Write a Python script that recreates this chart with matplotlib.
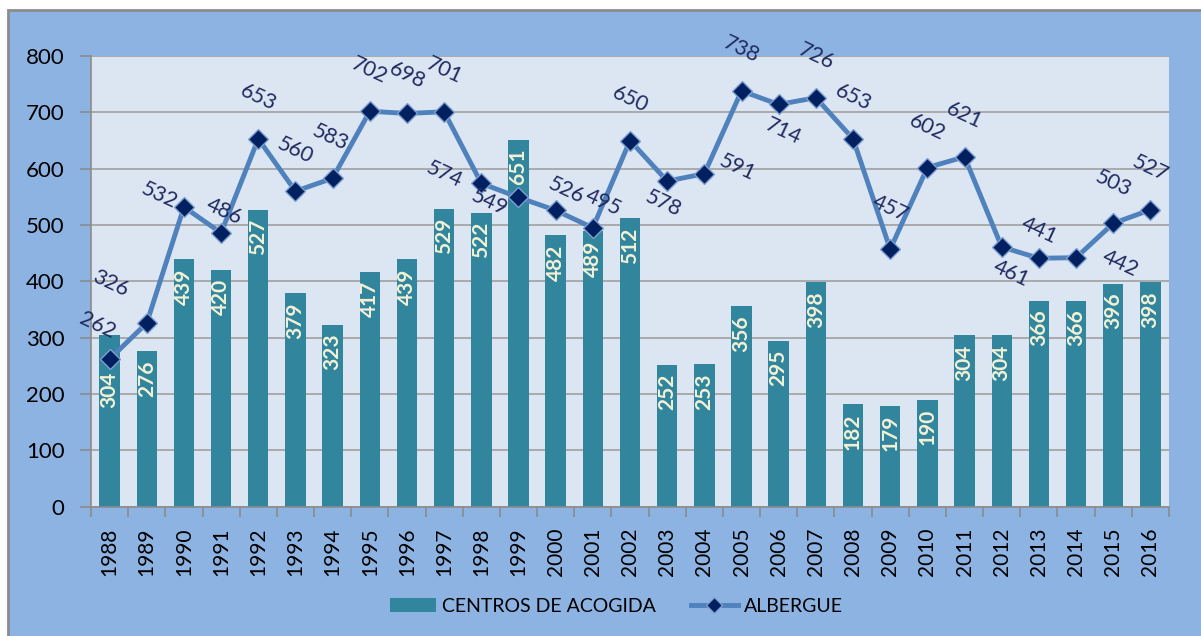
import numpy as np
import matplotlib
matplotlib.use('Agg')
import matplotlib.pyplot as plt
from matplotlib.patches import Rectangle
from matplotlib.ticker import MultipleLocator

plt.rcParams['font.family'] = ['Lato', 'DejaVu Sans']

years = [str(y) for y in range(1988, 2017)]
centros = [304, 276, 439, 420, 527, 379, 323, 417, 439, 529, 522, 651, 482, 489, 512,
           252, 253, 356, 295, 398, 182, 179, 190, 304, 304, 366, 366, 396, 398]
albergue = [262, 326, 532, 486, 653, 560, 583, 702, 698, 701, 574, 549, 526, 495, 650,
            578, 591, 738, 714, 726, 653, 457, 602, 621, 461, 441, 442, 503, 527]

# label offsets for the line values (pixels, x right / y up), as placed in the original
line_lbl_off = [(-12, 34), (-36, 40), (-25, 12), (3, 21), (0, 41), (0, 41), (-2, 41),
                (-1, 41), (0, 38), (0, 41), (-37, 9), (-29, -5), (11, 20), (10, 25),
                (0, 41), (-4, -22), (33, 6), (0, 41), (5, -27), (0, 41), (0, 41),
                (0, 41), (0, 40), (0, 41), (9, -26), (0, 28), (44, -6), (0, 40), (0, 41)]

W, H, DPI = 1201, 636, 100
fig = plt.figure(figsize=(W / DPI, H / DPI), dpi=DPI, facecolor='white')
bg = Rectangle((8 / W, -0.01), 1.0, 1 - 10 / H + 0.01, transform=fig.transFigure,
               facecolor='#8DB3E2', edgecolor='#8C8C8C', linewidth=2, zorder=-10)
fig.add_artist(bg)

ax = fig.add_axes([91 / W, 1 - 506.7 / H, (1169 - 91) / W, (506.7 - 56) / H])
ax.set_facecolor('#DCE6F2')

x = np.arange(len(years))
px = 72 / DPI

bars = ax.bar(x, centros, width=0.55, color='#31859C', zorder=2, label='CENTROS DE ACOGIDA')
line, = ax.plot(x, albergue, color='#4F81BD', linewidth=3.5, marker='D', markersize=10,
                markerfacecolor='#002060', markeredgecolor='#7F9FD0', markeredgewidth=1,
                zorder=3, label='ALBERGUE')

for i, v in enumerate(centros):
    dy = -36 if i == 0 else -9
    ax.annotate(str(v), (x[i], v), xytext=(0, dy * px), textcoords='offset points',
                ha='center', va='top', rotation=90, fontsize=15, fontweight='bold',
                color='#F3F1D6', zorder=4)

for i, v in enumerate(albergue):
    dx, dy = line_lbl_off[i]
    ax.annotate(str(v), (x[i], v), xytext=(dx * px, dy * px), textcoords='offset points',
                ha='center', va='center', rotation=-25, fontsize=15.5,
                color='#1F2A60', zorder=5, annotation_clip=False)

ax.set_ylim(0, 800)
ax.set_xlim(-0.5, len(years) - 0.5)
ax.yaxis.set_major_locator(MultipleLocator(100))
ax.grid(axis='y', color='#A0A0A0', linewidth=1.2, zorder=1)
ax.set_axisbelow(True)

ax.set_xticks(x)
ax.set_xticklabels(years, rotation=90, fontsize=15)
ax.set_xticks(np.arange(-0.5, len(years), 1), minor=True)
ax.tick_params(axis='x', which='major', length=0, pad=15)
ax.tick_params(axis='x', which='minor', length=7, color='#8C8C8C', width=1.2)
ax.tick_params(axis='y', length=8, color='#8C8C8C', width=1.2, labelsize=16, pad=11)

for s in ['top', 'right']:
    ax.spines[s].set_visible(False)
for s in ['left', 'bottom']:
    ax.spines[s].set_color('#8C8C8C')
    ax.spines[s].set_linewidth(1.2)

leg = fig.legend([bars, line], ['CENTROS DE ACOGIDA', 'ALBERGUE'], loc='center',
                 bbox_to_anchor=(0.513, 1 - 606 / H), ncol=2, frameon=False,
                 fontsize=14, handlelength=2.4, columnspacing=1.8, handletextpad=0.3,
                 markerscale=0.8)

fig.savefig('out.png', dpi=DPI, facecolor='white')
